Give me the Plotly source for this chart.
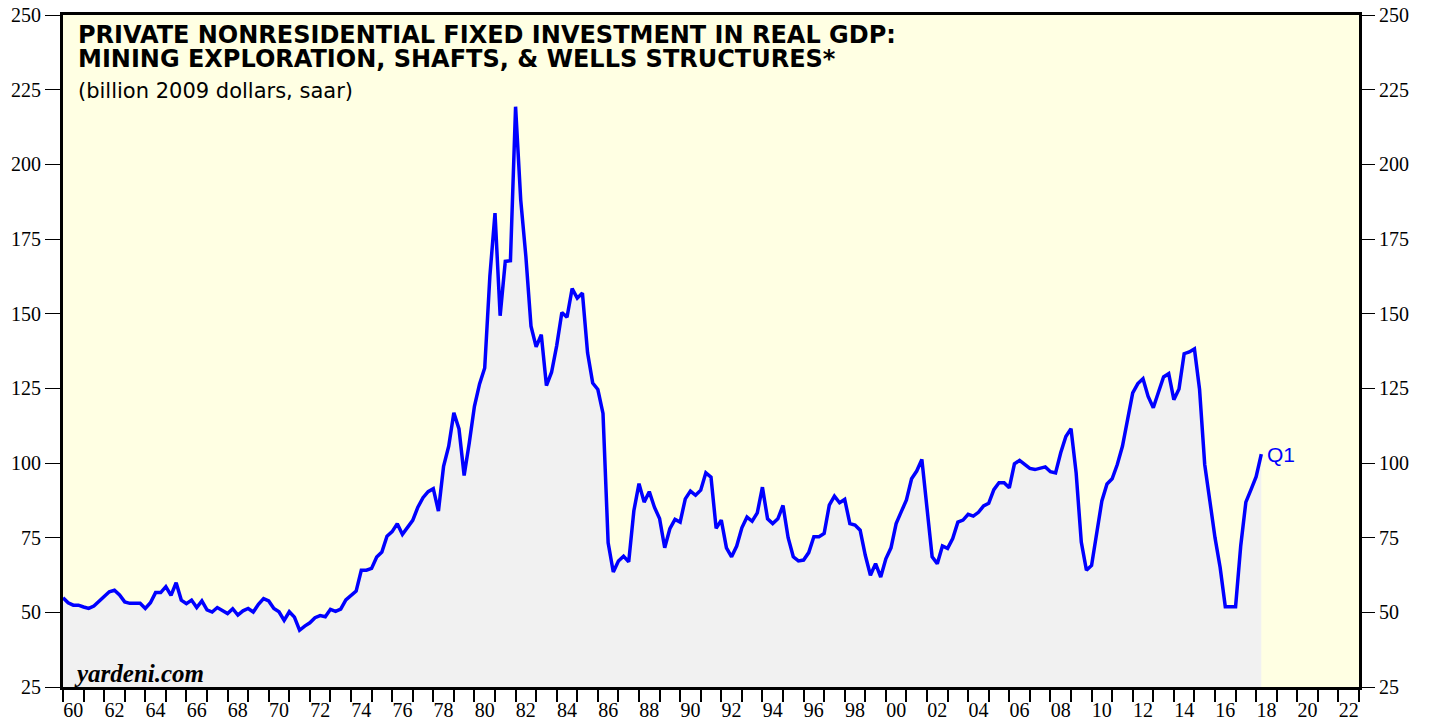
import plotly.graph_objects as go

# private nonresidential fixed investment: mining exploration, shafts & wells
# quarterly, billion 2009 dollars (saar), first point 1960
inv_1960s = [54.9, 53.2, 52.4, 52.4, 51.8, 51.3, 52.1, 53.8, 55.5, 56.9,
             57.4, 55.8, 53.5, 53.0, 53.0, 53.0, 51.3, 53.2, 56.6, 56.6,
             58.6, 55.7, 59.9, 54.1, 52.9, 54.1, 51.6, 53.8, 50.8, 50.1,
             51.6, 50.5, 49.6, 51.2, 49.1, 50.5, 51.3, 50.1, 52.7, 54.6]
inv_1970s = [53.8, 51.3, 50.2, 47.3, 50.2, 48.4, 44.0, 45.4, 46.5, 48.2,
             48.9, 48.5, 51.0, 50.3, 51.1, 54.2, 55.7, 57.1, 64.1, 64.1,
             64.7, 68.5, 70.2, 75.5, 77.0, 79.7, 76.1, 78.5, 80.8, 85.2,
             88.4, 90.4, 91.4, 83.9, 98.9, 105.6, 116.8, 111.4, 95.8, 106.8]
inv_1980s = [119.0, 126.5, 131.8, 162.5, 183.7, 149.3, 167.5, 167.7, 219.3, 188.1,
             169.2, 145.8, 138.9, 143.0, 125.9, 130.4, 139.3, 150.4, 148.8, 158.4,
             155.2, 156.9, 136.9, 126.8, 124.6, 116.6, 73.3, 63.5, 67.2, 68.8,
             66.9, 84.0, 93.1, 86.9, 90.4, 85.2, 81.4, 71.6, 78.0, 81.1]
inv_1990s = [80.2, 88.0, 90.6, 89.2, 90.9, 96.7, 95.3, 78.1, 80.9, 71.6,
             68.6, 72.2, 78.3, 81.9, 80.5, 83.3, 91.9, 81.3, 79.7, 81.3,
             85.8, 75.0, 68.6, 67.2, 67.5, 70.0, 75.3, 75.3, 76.4, 85.9,
             88.9, 86.7, 87.8, 79.7, 79.2, 77.5, 69.1, 62.4, 66.3, 61.8]
inv_2000s = [67.9, 71.6, 79.7, 83.7, 87.6, 94.7, 97.3, 101.2, 84.7, 68.6,
             66.3, 72.2, 71.4, 74.7, 80.2, 80.9, 82.8, 82.2, 83.5, 85.6,
             86.5, 91.1, 93.4, 93.4, 91.7, 99.7, 100.9, 99.7, 98.2, 97.8,
             98.4, 98.7, 97.1, 96.7, 103.4, 108.9, 111.5, 96.7, 73.5, 64.1]
inv_2010s = [65.7, 76.0, 87.3, 93.0, 94.7, 99.5, 105.6, 114.5, 123.5, 126.6,
             128.2, 122.3, 118.5, 123.7, 128.8, 129.9, 121.2, 124.8, 136.6, 137.2,
             138.2, 124.6, 99.5, 87.3, 75.0, 65.0, 51.9, 51.9, 51.9, 72.2,
             86.9, 91.1, 95.4, 103.0]

values = inv_1960s + inv_1970s + inv_1980s + inv_1990s + inv_2000s + inv_2010s
quarters = [1960 + i / 4 for i in range(len(values))]

year_ticks = list(range(1960, 2024))
label_years = list(range(1960, 2023, 2))
label_pos = [y + 0.5 for y in label_years]
label_txt = [f"{y % 100:02d}" for y in label_years]
y_ticks = list(range(25, 251, 25))

serif = "Liberation Serif, Times New Roman, serif"
sans = "DejaVu Sans, Verdana, sans-serif"

fig = go.Figure()
fig.add_trace(go.Scatter(x=quarters, y=values, mode="lines",
                         line=dict(color="#0000ff", width=3.5),
                         fill="tozeroy", fillcolor="#f1f1f1",
                         hoverinfo="x+y", showlegend=False))
# dummy trace so the right axis is drawn
fig.add_trace(go.Scatter(x=[quarters[0]], y=[values[0]], yaxis="y2",
                         mode="markers", marker=dict(opacity=0),
                         hoverinfo="skip", showlegend=False))

fig.update_layout(
    width=1429, height=721,
    margin=dict(l=63, r=70, t=15, b=34, autoexpand=False),
    paper_bgcolor="white",
    plot_bgcolor="#ffffe3",
    xaxis=dict(range=[1960, 2023], tickvals=label_pos, ticktext=label_txt,
               ticks="outside", ticklen=3, tickcolor="rgba(0,0,0,0)",
               minor=dict(tickvals=year_ticks, ticks="outside", ticklen=12,
                          tickwidth=2, tickcolor="black", showgrid=False),
               showgrid=False, zeroline=False, automargin=False,
               showline=True, linecolor="black", linewidth=3, mirror=True,
               tickfont=dict(family=serif, size=20, color="black")),
    yaxis=dict(range=[25, 250], tickvals=y_ticks, ticks="outside", ticklen=15,
               tickwidth=1, tickcolor="black", showgrid=False, zeroline=False,
               showline=True, linecolor="black", linewidth=3, mirror=True,
               automargin=False, ticklabeloverflow="allow",
               tickfont=dict(family=serif, size=20, color="black")),
    yaxis2=dict(range=[25, 250], tickvals=y_ticks, overlaying="y", side="right",
                ticks="outside", ticklen=15, tickwidth=1, tickcolor="black",
                showgrid=False, zeroline=False, showline=False, automargin=False,
                ticklabeloverflow="allow",
                tickfont=dict(family=serif, size=20, color="black")),
)

fig.add_annotation(text="<b>PRIVATE NONRESIDENTIAL FIXED INVESTMENT IN REAL GDP:</b>",
                   xref="paper", yref="paper", x=0.01, y=0.97,
                   xanchor="left", yanchor="middle", showarrow=False,
                   font=dict(family=sans, size=24, color="black"))
fig.add_annotation(text="<b>MINING EXPLORATION, SHAFTS, & WELLS STRUCTURES*</b>",
                   xref="paper", yref="paper", x=0.01, y=0.935,
                   xanchor="left", yanchor="middle", showarrow=False,
                   font=dict(family=sans, size=24, color="black"))
fig.add_annotation(text="(billion 2009 dollars, saar)",
                   xref="paper", yref="paper", x=0.01, y=0.887,
                   xanchor="left", yanchor="middle", showarrow=False,
                   font=dict(family=sans, size=21, color="black"))
fig.add_annotation(text="<b><i>yardeni.com</i></b>",
                   xref="paper", yref="paper", x=0.007, y=0.02,
                   xanchor="left", yanchor="middle", showarrow=False,
                   font=dict(family=serif, size=25, color="black"))
fig.add_annotation(text="Q1", x=quarters[-1], y=values[-1],
                   xanchor="left", yanchor="middle", xshift=4, showarrow=False,
                   font=dict(family="Liberation Sans, Arial, sans-serif", size=21,
                             color="#0000ff"))

# drop the default 8px page margin so the figure fills the window exactly
fig.write_html("out.html", config={"displayModeBar": False},
               post_script="document.body.style.margin='0';")
